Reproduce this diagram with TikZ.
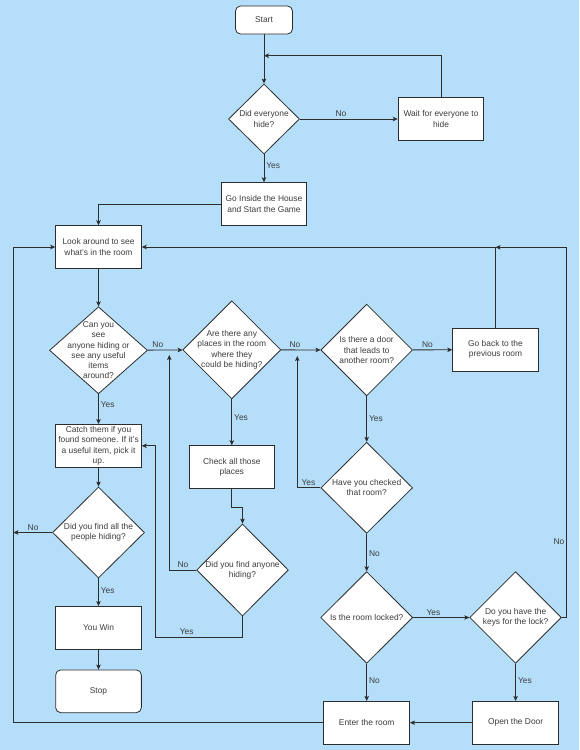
\documentclass[tikz,border=0pt]{standalone}
\usepackage{fontspec}
\setmainfont{Liberation Sans}
\usepackage{tikz}
\usetikzlibrary{shapes.geometric,arrows.meta,positioning}
\definecolor{bgblue}{RGB}{181,222,250}
\definecolor{linegray}{RGB}{45,45,45}
\definecolor{textgray}{RGB}{60,60,60}

\begin{document}
\begin{tikzpicture}[x=1pt, y=-1pt, >={Stealth[length=5pt, width=4.5pt, inset=1.2pt]},
    every node/.style={font=\fontsize{8.4}{10.2}\selectfont, text=textgray},
    box/.style={rectangle, draw=linegray, fill=white, line width=0.8pt, minimum width=85.7pt, minimum height=42.7pt, align=center, inner sep=1pt},
    term/.style={box, rounded corners=5pt},
    decision/.style={diamond, draw=linegray, fill=white, line width=0.8pt, inner sep=0pt, aspect=1},
    lbl/.style={inner sep=2pt},
    flow/.style={->, draw=linegray, line width=0.8pt}]
                % background and page size
                \fill[bgblue] (0,0) rectangle (579,750);
                \useasboundingbox (0,0) rectangle (579,750);

                % start and first check
                \node[term, minimum width=57pt, minimum height=28pt] (start) at (264,20) {Start};
                \node[decision, minimum width=71pt, minimum height=70pt, label={[align=center]center:Did everyone\\hide?}] (hide) at (264,119) {};
                \node[box] (wait) at (441,119) {Wait for everyone to\\hide};
                \node[box] (go) at (264,204) {Go Inside the House\\and Start the Game};
                \coordinate (j1) at (264,55.7);

                % left column
                \node[box] (look) at (98.5,247) {Look around to see\\what's in the room};
                \node[decision, minimum width=98pt, minimum height=87pt, label={[align=center]center:Can you\\see\\anyone hiding or\\see any useful\\items\\around?}] (can) at (98.5,350.3) {};
                \node[box] (catch) at (98.5,445.8) {Catch them if you\\found someone. If it's\\a useful item, pick it\\up.};
                \node[decision, minimum width=92pt, minimum height=91pt, label={[align=center]center:Did you find all the\\people hiding?}] (all) at (98.5,532.5) {};
                \node[box] (win) at (98.5,627.8) {You Win};
                \node[term] (stop) at (98.5,691.3) {Stop};
                \coordinate (jl) at (13.3,532.5);
                \coordinate (bl) at (13.3,722.7);

                % middle column
                \node[decision, minimum width=98pt, minimum height=98pt, label={[align=center]center:Are there any\\places in the room\\where they\\could be hiding?}] (are) at (231.8,349.8) {};
                \node[box] (check) at (231.8,467) {Check all those\\places};
                \node[decision, minimum width=91.7pt, minimum height=92pt, label={[align=center]center:Did you find anyone\\hiding?}] (anyone) at (242.5,570) {};
                \coordinate (j2) at (169.3,355);
                \coordinate (yb) at (155.3,637);

                % right columns
                \node[decision, minimum width=91.7pt, minimum height=91.7pt, label={[align=center]center:Is there a door\\that leads to\\another room?}] (door) at (366.7,350) {};
                \node[box] (goback) at (495.5,349.7) {Go back to the\\previous room};
                \node[decision, minimum width=91.7pt, minimum height=91pt, label={[align=center]center:Have you checked\\that room?}] (checked) at (366.7,487.8) {};
                \node[decision, minimum width=92pt, minimum height=91.7pt, label={[align=center]center:Is the room locked?}] (locked) at (366.7,617.5) {};
                \node[decision, minimum width=91.7pt, minimum height=91.7pt, label={[align=center]center:Do you have the\\keys for the lock?}] (keys) at (515.6,617.5) {};
                \node[box] (enter) at (366.7,722.7) {Enter the room};
                \node[box] (open) at (515.6,722.7) {Open the Door};
                \coordinate (j3) at (297.3,356);
                \coordinate (kr) at (566.7,617.5);
                \coordinate (j4) at (495.5,247.3);

                % connectors
                \draw[flow] (start) -- (hide);
                \draw[flow] (hide) -- node[lbl, above, pos=0.42] {No} (wait);
                \draw[flow] (wait.north) |- (j1);
                \draw[flow] (hide) -- node[lbl, right, pos=0.4] {Yes} (go);
                \draw[flow] (go.west) -| (look.north);
                \draw[flow] (look) -- (can);
                \draw[flow] (can) -- node[lbl, above, pos=0.29] {No} (are);
                \draw[flow] (can) -- node[lbl, right, pos=0.35] {Yes} (catch);
                \draw[flow] (catch) -- (all);
                \draw[flow] (all) -- node[lbl, above, pos=0.49] {No} (jl);
                \draw[flow] (all) -- node[lbl, right, pos=0.46] {Yes} (win);
                \draw[flow] (win) -- (stop);
                \draw[flow] (are) -- node[lbl, above, pos=0.35] {No} (door);
                \draw[flow] (are) -- node[lbl, right, pos=0.4] {Yes} (check);
                \draw[flow] (check.south) -- ++(0,18.5) -| (anyone.north);
                \draw[flow] (anyone.west) -| node[lbl, above, pos=0.245] {No} (j2);
                \draw[flow] (anyone.south) |- node[lbl, above, pos=0.82] {Yes} (yb) |- (catch.east);
                \draw[flow] (door) -- node[lbl, above, pos=0.37] {No} (goback);
                \draw[flow] (door) -- node[lbl, right, pos=0.5] {Yes} (checked);
                \draw[flow] (checked.west) -| node[lbl, above, pos=0.26] {Yes} (j3);
                \draw[flow] (checked) -- node[lbl, right, pos=0.52] {No} (locked);
                \draw[flow] (locked) -- node[lbl, above, pos=0.36] {Yes} (keys);
                \draw[flow] (locked) -- node[lbl, right, pos=0.45] {No} (enter);
                \draw[flow] (keys) -- node[lbl, right, pos=0.45] {Yes} (open);
                \draw[flow] (keys.east) -- (kr) |- node[lbl, left, pos=0.103] {No} (j4);
                \draw[flow] (goback.north) |- (look.east);
                \draw[flow] (open) -- (enter);
                \draw[flow] (enter.west) -- (bl) |- (look.west);
\end{tikzpicture}
\end{document}
